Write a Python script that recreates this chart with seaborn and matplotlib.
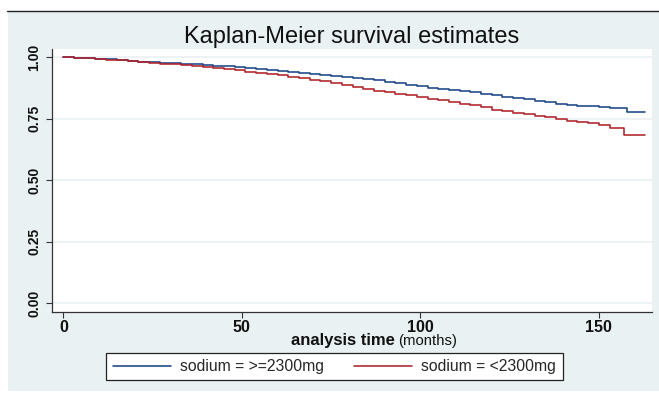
import matplotlib
matplotlib.use("Agg")
import matplotlib.pyplot as plt
from matplotlib.patches import Rectangle
from matplotlib.lines import Line2D
import numpy as np
import pandas as pd
import seaborn as sns

# ── data (months / survival) ──
time_high = [0, 3, 6, 9, 12, 15, 18, 21, 24, 27, 30, 33, 36, 39, 42, 45, 48,
             51, 54, 57, 60, 63, 66, 69, 72, 75, 78, 81, 84, 87, 90, 93, 96,
             99, 102, 105, 108, 111, 114, 117, 120, 123, 126, 129, 132, 135,
             138, 141, 144, 147, 150, 153, 158, 163]
surv_high = [1.000, 0.999, 0.997, 0.995, 0.993, 0.990, 0.987, 0.983, 0.980,
             0.978, 0.976, 0.974, 0.972, 0.969, 0.966, 0.963, 0.960, 0.956,
             0.952, 0.949, 0.945, 0.942, 0.938, 0.933, 0.929, 0.925, 0.921,
             0.917, 0.912, 0.906, 0.901, 0.895, 0.889, 0.883, 0.875, 0.871,
             0.867, 0.863, 0.858, 0.852, 0.846, 0.840, 0.836, 0.830, 0.824,
             0.818, 0.811, 0.807, 0.804, 0.801, 0.797, 0.793, 0.779, 0.779]

time_low = [0, 3, 6, 9, 12, 15, 18, 21, 24, 27, 30, 33, 36, 39, 42, 45, 48,
            51, 54, 57, 60, 63, 66, 69, 72, 75, 78, 81, 84, 87, 90, 93, 96,
            99, 102, 105, 108, 111, 114, 117, 120, 123, 126, 129, 132, 135,
            138, 141, 144, 147, 150, 153, 157, 163]
surv_low = [1.000, 0.999, 0.996, 0.994, 0.991, 0.988, 0.985, 0.982, 0.978,
            0.975, 0.972, 0.969, 0.965, 0.961, 0.957, 0.953, 0.949, 0.942,
            0.937, 0.932, 0.927, 0.921, 0.915, 0.909, 0.903, 0.896, 0.888,
            0.879, 0.871, 0.864, 0.858, 0.851, 0.845, 0.838, 0.832, 0.826,
            0.819, 0.812, 0.805, 0.797, 0.788, 0.781, 0.775, 0.769, 0.763,
            0.757, 0.750, 0.743, 0.738, 0.733, 0.724, 0.714, 0.684, 0.684]

groups = ["sodium = >=2300mg", "sodium = <2300mg"]
x_ticks = [0, 50, 100, 150]
y_ticks = [0.00, 0.25, 0.50, 0.75, 1.00]

BG = "#eaf1f3"
NAVY = "#1c4587"
MAROON = "#b0222b"
FONT = ["Liberation Sans", "DejaVu Sans"]

df = pd.concat([
    pd.DataFrame({"t": time_high, "s": surv_high, "group": groups[0]}),
    pd.DataFrame({"t": time_low, "s": surv_low, "group": groups[1]}),
])

sns.set_theme(style="white")
plt.rcParams["font.family"] = FONT

fig = plt.figure(figsize=(6.59, 3.93), dpi=100)
fig.patch.set_facecolor("white")

W, H = 659, 393
# light stata-like background panel + top rule
bg = Rectangle((8 / W, 1 - 391 / H), (W - 8) / W, (391 - 12) / H,
               transform=fig.transFigure, facecolor=BG, edgecolor="none",
               zorder=-10)
fig.add_artist(bg)
fig.add_artist(Line2D([7 / W, 1], [1 - 11 / H] * 2, transform=fig.transFigure,
                      color="#222222", lw=1.0, zorder=-5))

ax = fig.add_axes([52.3 / W, 1 - 312 / H, (651.7 - 52.3) / W, (312 - 49) / H])
ax.set_zorder(2)
ax.set_facecolor("white")

sns.lineplot(data=df, x="t", y="s", hue="group", palette=[NAVY, MAROON],
             estimator=None, drawstyle="steps-post", lw=1.15, ax=ax,
             legend=False)

ax.set_xlim(-3.1, 164.8)
ax.set_ylim(-0.035, 1.034)
ax.set_xticks(x_ticks)
ax.set_yticks(y_ticks)
ax.set_xticklabels([str(v) for v in x_ticks], fontsize=11.5, fontweight="bold",
                   color="#111111")
ax.set_yticklabels([f"{v:.2f}" for v in y_ticks], fontsize=10,
                   fontweight="bold", rotation=90, va="center",
                   color="#111111")
ax.tick_params(axis="both", direction="out", length=4, width=0.8,
               color="#333333", left=True, bottom=True)
ax.tick_params(axis="x", pad=2)
ax.tick_params(axis="y", pad=4)
ax.grid(axis="y", color=BG, lw=1.2)
ax.set_axisbelow(True)
for side in ["top", "right"]:
    ax.spines[side].set_visible(False)
for side in ["left", "bottom"]:
    ax.spines[side].set_color("#333333")
    ax.spines[side].set_linewidth(0.9)
ax.set_xlabel("")
ax.set_ylabel("")

# title and x label
fig.text(352 / W, 1 - 37 / H, "Kaplan-Meier survival estimates", fontsize=17,
         ha="center", va="center", color="#111111")
fig.text(395 / W, 1 - 340 / H, "analysis time", fontsize=12, fontweight="bold",
         ha="right", va="center", color="#111111")
fig.text(398 / W, 1 - 341 / H, "(months)", fontsize=10.7, ha="left",
         va="center", color="#111111")

handles = [Line2D([], [], color=NAVY, lw=1.15), Line2D([], [], color=MAROON, lw=1.15)]
leg = fig.legend(handles, groups, ncol=2, loc="center",
                 bbox_to_anchor=(334.5 / W, 1 - 366.5 / H), fontsize=11.3,
                 frameon=True, fancybox=False, edgecolor="#222222",
                 facecolor="white", framealpha=1, handlelength=3.7,
                 handletextpad=0.6, columnspacing=1.9, borderpad=0.4)
leg.get_frame().set_linewidth(0.9)

fig.savefig("out.png", dpi=100, facecolor=fig.get_facecolor())
